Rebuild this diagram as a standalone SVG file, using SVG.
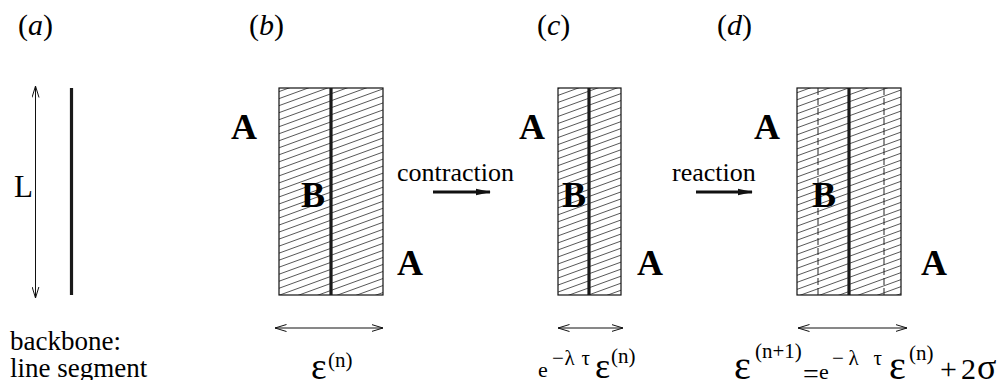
<svg xmlns="http://www.w3.org/2000/svg" width="998" height="380" viewBox="0 0 998 380">
<style>
.lab{font-size:30px}
.big{font-size:36px;font-weight:bold}
.txt{font-size:26px}
.eps{font-size:37px}
.sup{font-size:21px}
.box{fill:url(#hatch);stroke:#111;stroke-width:1.2}
.spine{stroke:#1a1a1a;stroke-width:3.2}
.thin{stroke:#111;stroke-width:1;fill:none}
.dash{stroke:#222;stroke-width:1;stroke-dasharray:7 3}
</style>
<defs>
<pattern id="hatch" width="8" height="6.6" patternUnits="userSpaceOnUse" patternTransform="rotate(-20)">
<rect width="8" height="6.6" fill="#fff"/>
<line x1="0" y1="3.3" x2="8" y2="3.3" stroke="#333" stroke-width="0.8"/>
</pattern>
<marker id="open" viewBox="0 0 12 8" refX="11.5" refY="4" markerWidth="12" markerHeight="8" markerUnits="userSpaceOnUse" orient="auto-start-reverse">
<path d="M0,0.5 L11.5,4 L0,7.5" fill="none" stroke="#111" stroke-width="1"/>
</marker>
<marker id="solid" viewBox="0 0 15 8" refX="14" refY="4" markerWidth="15" markerHeight="8" markerUnits="userSpaceOnUse" orient="auto">
<path d="M0,0.8 L15,4 L0,7.2 Z" fill="#111"/>
</marker>
</defs>
<rect width="998" height="380" fill="#fff"/>

<g id="labels">
<text font-family="Liberation Serif" class="lab" x="18" y="35">(<tspan font-style="italic">a</tspan>)</text>
<text font-family="Liberation Serif" class="lab" x="249" y="35">(<tspan font-style="italic">b</tspan>)</text>
<text font-family="Liberation Serif" class="lab" x="537" y="35">(<tspan font-style="italic">c</tspan>)</text>
<text font-family="Liberation Serif" class="lab" x="717" y="35">(<tspan font-style="italic">d</tspan>)</text>
</g>

<g id="panel-a">
<line class="spine" x1="71.5" y1="88" x2="71.5" y2="295"/>
<text font-family="Liberation Serif" x="14" y="197" font-size="31">L</text>
<text font-family="Liberation Serif" x="10" y="350" font-size="27">backbone:</text>
<text font-family="Liberation Serif" x="10" y="377" font-size="27">line segment</text>
</g>

<g id="panel-b">
<rect class="box" x="279" y="88" width="104" height="207"/>
<line class="spine" x1="331" y1="88" x2="331" y2="295"/>
<text font-family="Liberation Serif" class="big" x="231" y="139">A</text>
<text font-family="Liberation Serif" class="big" x="301" y="207">B</text>
<text font-family="Liberation Serif" class="big" x="397" y="275">A</text>
<text font-family="Liberation Serif" class="eps" x="311" y="379">ε</text>
<text font-family="Liberation Serif" class="sup" x="328" y="367">(n)</text>
</g>

<g id="panel-c">
<rect class="box" x="558" y="88" width="63" height="207"/>
<line class="spine" x1="589" y1="88" x2="589" y2="295"/>
<text font-family="Liberation Serif" class="big" x="519" y="139">A</text>
<text font-family="Liberation Serif" class="big" x="562" y="207">B</text>
<text font-family="Liberation Serif" class="big" x="637" y="275">A</text>
<text font-family="Liberation Serif" x="538" y="377" font-size="22">e</text>
<text font-family="Liberation Serif" x="552" y="365" font-size="21" textLength="38">−λ τ</text>
<text font-family="Liberation Serif" x="595" y="378" font-size="36">ε</text>
<text font-family="Liberation Serif" class="sup" x="611" y="363">(n)</text>
</g>

<g id="panel-d">
<rect class="box" x="797" y="88" width="104" height="207"/>
<line class="dash" x1="818" y1="88" x2="818" y2="295"/>
<line class="dash" x1="884" y1="88" x2="884" y2="295"/>
<line class="spine" x1="849" y1="88" x2="849" y2="295"/>
<text font-family="Liberation Serif" class="big" x="754" y="139">A</text>
<text font-family="Liberation Serif" class="big" x="812" y="207">B</text>
<text font-family="Liberation Serif" class="big" x="921" y="275">A</text>
<text font-family="Liberation Serif" x="734" y="379" font-size="40">ε</text>
<text font-family="Liberation Serif" class="sup" x="755" y="358">(n+1)</text>
<text font-family="Liberation Serif" x="803" y="383" font-size="28">=</text>
<text font-family="Liberation Serif" x="819" y="379" font-size="22">e</text>
<text font-family="Liberation Serif" x="832" y="365" font-size="21" textLength="50">−λ τ</text>
<text font-family="Liberation Serif" x="889" y="379" font-size="40">ε</text>
<text font-family="Liberation Serif" class="sup" x="909" y="360">(n)</text>
<text font-family="Liberation Serif" x="940" y="379" font-size="30">+</text>
<text font-family="Liberation Serif" x="961" y="379" font-size="30">2</text>
<text font-family="Liberation Serif" x="977" y="379" font-size="36">σ</text>
</g>

<g id="connectors">
<line class="thin" x1="35.5" y1="86" x2="35.5" y2="298" marker-start="url(#open)" marker-end="url(#open)"/>
<line class="thin" x1="275" y1="328" x2="383" y2="328" marker-start="url(#open)" marker-end="url(#open)"/>
<line class="thin" x1="558" y1="328" x2="623" y2="328" marker-start="url(#open)" marker-end="url(#open)"/>
<line class="thin" x1="798" y1="328" x2="907" y2="328" marker-start="url(#open)" marker-end="url(#open)"/>
<line x1="433" y1="192" x2="490" y2="192" stroke="#111" stroke-width="3.2" marker-end="url(#solid)"/>
<text font-family="Liberation Serif" class="txt" x="397" y="181">contraction</text>
<line x1="696" y1="192" x2="752" y2="192" stroke="#111" stroke-width="3.2" marker-end="url(#solid)"/>
<text font-family="Liberation Serif" class="txt" x="672" y="181">reaction</text>
</g>
</svg>
